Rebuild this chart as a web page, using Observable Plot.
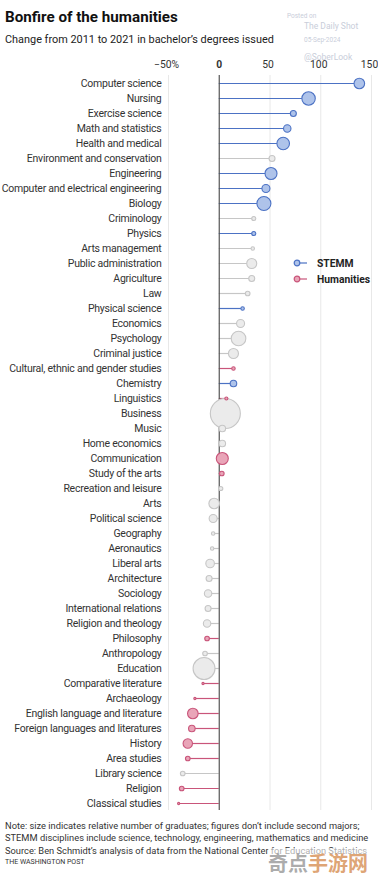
<!DOCTYPE html>
<html><head><meta charset="utf-8">
<script src="https://cdn.jsdelivr.net/npm/d3@7"></script>
<script src="https://cdn.jsdelivr.net/npm/@observablehq/plot@0.6"></script>
<style>
body{margin:0;background:#fff;font-family:"Roboto","Liberation Sans",sans-serif;color:#222;}
#wrap{position:relative;width:378px;height:876px;overflow:hidden;background:#fff;}
.abs{position:absolute;white-space:nowrap;}
#title{left:5px;top:8px;font-size:15.2px;font-weight:700;color:#111;}
#subtitle{left:5px;top:33px;font-size:10.9px;color:#222;}
#chart{position:absolute;left:0;top:50px;}
.wm{color:#c9ceda;}
.note{left:5px;font-size:9.3px;color:#333;}
#legend{left:292px;top:255px;font-size:10.3px;font-weight:700;color:#222;}
#legend div{height:16px;display:flex;align-items:center;}
#legend svg{margin-right:9px;}
</style>
</head><body>
<div id="wrap">
  <div class="abs" id="title">Bonfire of the humanities</div>
  <div class="abs" id="subtitle">Change from 2011 to 2021 in bachelor’s degrees issued</div>
  <div class="abs wm" style="left:287px;top:12px;font-size:6.5px;">Posted on</div>
  <div class="abs wm" style="left:304px;top:21px;font-size:8.5px;">The Daily Shot</div>
  <div class="abs wm" style="left:304px;top:36px;font-size:6.5px;">05-Sep-2024</div>
  <div class="abs wm" style="left:304px;top:52px;font-size:8.5px;">@SoberLook</div>
  <div id="chart"></div>
  <div class="abs" id="legend">
    <div><svg width="16" height="10"><line x1="6" x2="15" y1="5" y2="5" stroke="#4c72c4" stroke-width="1.2"/><circle cx="5" cy="5" r="2.8" fill="#aec3ea" stroke="#4c72c4" stroke-width="1.2"/></svg>STEMM</div>
    <div><svg width="16" height="10"><line x1="6" x2="15" y1="5" y2="5" stroke="#c9557a" stroke-width="1.2"/><circle cx="5" cy="5" r="2.8" fill="#e9a5b8" stroke="#c9557a" stroke-width="1.2"/></svg>Humanities</div>
  </div>
  <div class="abs note" style="top:820px;">Note: size indicates relative number of graduates; figures don’t include second majors;</div>
  <div class="abs note" style="top:832px;">STEMM disciplines include science, technology, engineering, mathematics and medicine</div>
  <div class="abs note" style="top:845px;">Source: Ben Schmidt’s analysis of data from the National Center for Education Statistics</div>
  <div class="abs note" style="top:858px;font-size:7px;">THE WASHINGTON POST</div>
  <div class="abs" style="left:268px;top:848px;font-size:20px;font-weight:700;color:rgba(150,150,150,0.8);font-family:'Noto Sans CJK SC';background:rgba(255,255,255,0.6);">奇点<span style="color:rgba(214,140,80,0.8)">手游网</span></div>
</div>
<script>
const names = ["Computer science","Nursing","Exercise science","Math and statistics","Health and medical","Environment and conservation","Engineering","Computer and electrical engineering","Biology","Criminology","Physics","Arts management","Public administration","Agriculture","Law","Physical science","Economics","Psychology","Criminal justice","Cultural, ethnic and gender studies","Chemistry","Linguistics","Business","Music","Home economics","Communication","Study of the arts","Recreation and leisure","Arts","Political science","Geography","Aeronautics","Liberal arts","Architecture","Sociology","International relations","Religion and theology","Philosophy","Anthropology","Education","Comparative literature","Archaeology","English language and literature","Foreign languages and literatures","History","Area studies","Library science","Religion","Classical studies"];
// percent change 2011 -> 2021
const change = [138,88,73,67,63,52,51,46,44,34,34,33,32,32,28,23,21,19,14,14,14,7,6,3,3,3,2.5,1.5,-5,-6,-6,-7,-9,-10,-11,-11,-12,-12,-14,-15,-16,-24,-26,-27,-31,-31,-36,-37,-40];
// relative number of graduates (thousands, estimated from circle size)
const grads = [47,75,15,23,66,15,60,27,82,7,7,5,42,15,9,5,27,89,42,5,18,4,375,18,18,60,9,7,47,27,5,5,31,15,23,15,23,9,9,200,2,2,47,18,37,9,9,9,2];
const stemm = ["Computer science","Nursing","Exercise science","Math and statistics","Health and medical","Engineering","Computer and electrical engineering","Biology","Physics","Physical science","Chemistry"];
const humanities = ["Cultural, ethnic and gender studies","Linguistics","Communication","Study of the arts","Philosophy","Comparative literature","Archaeology","English language and literature","Foreign languages and literatures","History","Area studies","Religion","Classical studies"];
const xTicks = [-50,50,100,150];

const groupOf = n => stemm.includes(n) ? "STEMM" : humanities.includes(n) ? "Humanities" : "Other";
const data = names.map((n,i)=>({name:n, change:change[i], grads:grads[i], group:groupOf(n)}));
const strokeC = {STEMM:"#4c72c4", Humanities:"#c9557a", Other:"#c6c6c6"};
const fillC = {STEMM:"#aec3ea", Humanities:"#e9a5b8", Other:"#ebebeb"};
const dotsData = data.slice().sort((a,b)=>b.grads-a.grads);

const chart = Plot.plot({
  width:378, height:770,
  marginLeft:168, marginRight:7, marginTop:25, marginBottom:10,
  style:{fontFamily:"Roboto, 'Liberation Sans', sans-serif", color:"#333", background:"transparent"},
  x:{domain:[-50,150]},
  y:{type:"point", domain:names, padding:0.5},
  r:{type:"sqrt", domain:[0,375], range:[0,15]},
  color:{type:"identity"},
  marks:[
    Plot.gridX(xTicks, {stroke:"#e8e8e8", strokeOpacity:1}),
    Plot.ruleY(data, {y:"name", x1:0, x2:"change", stroke:d=>strokeC[d.group], strokeWidth:1.2}),
    Plot.ruleX([0], {stroke:"#555", strokeWidth:1.2}),
    Plot.dot(dotsData, {x:"change", y:"name", r:"grads", fill:d=>fillC[d.group], stroke:d=>strokeC[d.group], strokeWidth:1.1}),
    Plot.axisX(xTicks, {anchor:"top", tickSize:0, tickPadding:8, fontSize:10.3, dx:-2, tickFormat:d=>d<0?"−50%":String(d), label:null}),
    Plot.axisX([0], {anchor:"top", tickSize:0, tickPadding:8, fontSize:10.3, fontWeight:"bold", tickFormat:d=>"0", label:null}),
    Plot.axisY({tickSize:0, tickPadding:7, fontSize:10.5, label:null})
  ]
});
d3.select(chart).selectAll('g[aria-label="y-axis tick label"]').attr("letter-spacing","-0.25px").attr("fill","#333");
document.getElementById("chart").appendChild(chart);
</script>
</body></html>
